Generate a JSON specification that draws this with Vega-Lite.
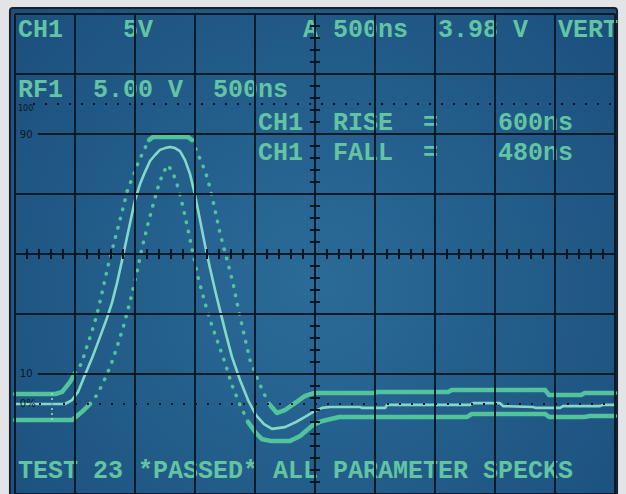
{
  "$schema": "https://vega.github.io/schema/vega-lite/v6.json",
  "width": 600,
  "height": 480,
  "autosize": {"type": "none"},
  "padding": {"left": 15, "top": 14, "right": 11, "bottom": 0},
  "background": "#e2e4e6",
  "config": {"view": {"stroke": null}},
  "datasets": {
    "screen": [{"t0": -42, "t1": 5017, "p0": -31, "p1": 132}],
    "grid": [
      {"t0": 0, "t1": 0, "p0": -31, "p1": 130}, {"t0": 500, "t1": 500, "p0": -31, "p1": 130},
      {"t0": 1000, "t1": 1000, "p0": -31, "p1": 130}, {"t0": 1500, "t1": 1500, "p0": -31, "p1": 130},
      {"t0": 2000, "t1": 2000, "p0": -31, "p1": 130}, {"t0": 2500, "t1": 2500, "p0": -31, "p1": 130},
      {"t0": 3000, "t1": 3000, "p0": -31, "p1": 130}, {"t0": 3500, "t1": 3500, "p0": -31, "p1": 130},
      {"t0": 4000, "t1": 4000, "p0": -31, "p1": 130}, {"t0": 4500, "t1": 4500, "p0": -31, "p1": 130},
      {"t0": 5000, "t1": 5000, "p0": -31, "p1": 130},
      {"t0": 0, "t1": 5000, "p0": -30, "p1": -30}, {"t0": 190, "t1": 5000, "p0": 10, "p1": 10},
      {"t0": 0, "t1": 5000, "p0": 30, "p1": 30}, {"t0": 0, "t1": 5000, "p0": 50, "p1": 50},
      {"t0": 0, "t1": 5000, "p0": 70, "p1": 70}, {"t0": 190, "t1": 5000, "p0": 90, "p1": 90},
      {"t0": 0, "t1": 5000, "p0": 110, "p1": 110}, {"t0": 0, "t1": 5000, "p0": 130, "p1": 130}
    ],
    "trace": [
      {"t": 0, "pct": 0}, {"t": 417, "pct": 0}, {"t": 475, "pct": 1.3}, {"t": 525, "pct": 4},
      {"t": 583, "pct": 9.7}, {"t": 642, "pct": 15.3}, {"t": 708, "pct": 22.3}, {"t": 767, "pct": 28.7},
      {"t": 808, "pct": 33.7}, {"t": 850, "pct": 40.3}, {"t": 900, "pct": 49.3}, {"t": 950, "pct": 58.7},
      {"t": 1000, "pct": 68}, {"t": 1042, "pct": 73.3}, {"t": 1083, "pct": 77.3}, {"t": 1125, "pct": 81},
      {"t": 1167, "pct": 83}, {"t": 1208, "pct": 84.7}, {"t": 1250, "pct": 85.3}, {"t": 1292, "pct": 85.7},
      {"t": 1333, "pct": 85.3}, {"t": 1375, "pct": 84.3}, {"t": 1417, "pct": 81.3}, {"t": 1458, "pct": 76.7},
      {"t": 1500, "pct": 69.7}, {"t": 1542, "pct": 61.3}, {"t": 1583, "pct": 53}, {"t": 1625, "pct": 45.3},
      {"t": 1667, "pct": 38}, {"t": 1708, "pct": 31.3}, {"t": 1758, "pct": 23.3}, {"t": 1808, "pct": 15.7},
      {"t": 1875, "pct": 8}, {"t": 1942, "pct": 1.3}, {"t": 2008, "pct": -3.7}, {"t": 2075, "pct": -6.7},
      {"t": 2142, "pct": -8.3}, {"t": 2250, "pct": -7.7}, {"t": 2342, "pct": -6}, {"t": 2417, "pct": -4.3},
      {"t": 2483, "pct": -2.7}, {"t": 2558, "pct": -1.3}, {"t": 2625, "pct": -1}, {"t": 2875, "pct": -1},
      {"t": 2892, "pct": -1.3}, {"t": 3083, "pct": -1.3}, {"t": 3100, "pct": -0.3}, {"t": 3792, "pct": -0.3},
      {"t": 3817, "pct": 0.3}, {"t": 4042, "pct": 0.3}, {"t": 4067, "pct": -0.7}, {"t": 4317, "pct": -1},
      {"t": 4342, "pct": -1.3}, {"t": 4542, "pct": -1.3}, {"t": 4567, "pct": -0.7}, {"t": 4875, "pct": -0.7},
      {"t": 4900, "pct": -0.3}, {"t": 5000, "pct": -0.3}
    ],
    "env": [
      {"seg": "u1", "part": "level", "t": 0, "pct": 3.3}, {"seg": "u1", "part": "level", "t": 333, "pct": 3.3},
      {"seg": "u1", "part": "level", "t": 392, "pct": 4}, {"seg": "u1", "part": "level", "t": 458, "pct": 7.3},
      {"seg": "u1", "part": "level", "t": 500, "pct": 10.3},
      {"seg": "u2", "part": "edge", "t": 500, "pct": 10.3}, {"seg": "u2", "part": "edge", "t": 558, "pct": 13.7},
      {"seg": "u2", "part": "edge", "t": 583, "pct": 17.3}, {"seg": "u2", "part": "edge", "t": 617, "pct": 21.3},
      {"seg": "u2", "part": "edge", "t": 658, "pct": 26.3}, {"seg": "u2", "part": "edge", "t": 692, "pct": 31.3},
      {"seg": "u2", "part": "edge", "t": 725, "pct": 37}, {"seg": "u2", "part": "edge", "t": 775, "pct": 46},
      {"seg": "u2", "part": "edge", "t": 833, "pct": 55}, {"seg": "u2", "part": "edge", "t": 875, "pct": 61.3},
      {"seg": "u2", "part": "edge", "t": 917, "pct": 68}, {"seg": "u2", "part": "edge", "t": 942, "pct": 72},
      {"seg": "u2", "part": "edge", "t": 983, "pct": 75.7}, {"seg": "u2", "part": "edge", "t": 1025, "pct": 80.3},
      {"seg": "u2", "part": "edge", "t": 1067, "pct": 84}, {"seg": "u2", "part": "edge", "t": 1117, "pct": 88},
      {"seg": "u3", "part": "level", "t": 1117, "pct": 88}, {"seg": "u3", "part": "level", "t": 1150, "pct": 89},
      {"seg": "u3", "part": "level", "t": 1442, "pct": 89}, {"seg": "u3", "part": "level", "t": 1475, "pct": 88},
      {"seg": "u4", "part": "edge", "t": 1475, "pct": 88}, {"seg": "u4", "part": "edge", "t": 1517, "pct": 84},
      {"seg": "u4", "part": "edge", "t": 1558, "pct": 80.3}, {"seg": "u4", "part": "edge", "t": 1600, "pct": 75.7},
      {"seg": "u4", "part": "edge", "t": 1625, "pct": 72}, {"seg": "u4", "part": "edge", "t": 1658, "pct": 66.3},
      {"seg": "u4", "part": "edge", "t": 1708, "pct": 57}, {"seg": "u4", "part": "edge", "t": 1767, "pct": 48},
      {"seg": "u4", "part": "edge", "t": 1817, "pct": 40.3}, {"seg": "u4", "part": "edge", "t": 1850, "pct": 33.7},
      {"seg": "u4", "part": "edge", "t": 1900, "pct": 24.7}, {"seg": "u4", "part": "edge", "t": 1958, "pct": 14.7},
      {"seg": "u4", "part": "edge", "t": 2008, "pct": 9.7}, {"seg": "u4", "part": "edge", "t": 2067, "pct": 4},
      {"seg": "u4", "part": "edge", "t": 2125, "pct": -0.3},
      {"seg": "u5", "part": "level", "t": 2125, "pct": -0.3}, {"seg": "u5", "part": "level", "t": 2183, "pct": -3},
      {"seg": "u5", "part": "level", "t": 2250, "pct": -2}, {"seg": "u5", "part": "level", "t": 2333, "pct": 0.3},
      {"seg": "u5", "part": "level", "t": 2417, "pct": 2.7}, {"seg": "u5", "part": "level", "t": 2500, "pct": 3.7},
      {"seg": "u5", "part": "level", "t": 3000, "pct": 3.7}, {"seg": "u5", "part": "level", "t": 3017, "pct": 4},
      {"seg": "u5", "part": "level", "t": 3608, "pct": 4}, {"seg": "u5", "part": "level", "t": 3642, "pct": 4.7},
      {"seg": "u5", "part": "level", "t": 4417, "pct": 4.7}, {"seg": "u5", "part": "level", "t": 4450, "pct": 3},
      {"seg": "u5", "part": "level", "t": 4717, "pct": 3}, {"seg": "u5", "part": "level", "t": 4750, "pct": 3.7},
      {"seg": "u5", "part": "level", "t": 5000, "pct": 3.7},
      {"seg": "l1", "part": "level", "t": 0, "pct": -5.3}, {"seg": "l1", "part": "level", "t": 475, "pct": -5.3},
      {"seg": "l1", "part": "level", "t": 508, "pct": -4.3}, {"seg": "l1", "part": "level", "t": 567, "pct": -2.3},
      {"seg": "l1", "part": "level", "t": 625, "pct": 0},
      {"seg": "l2", "part": "edge", "t": 625, "pct": 0}, {"seg": "l2", "part": "edge", "t": 683, "pct": 3},
      {"seg": "l2", "part": "edge", "t": 725, "pct": 6.3}, {"seg": "l2", "part": "edge", "t": 767, "pct": 10},
      {"seg": "l2", "part": "edge", "t": 808, "pct": 14}, {"seg": "l2", "part": "edge", "t": 850, "pct": 19},
      {"seg": "l2", "part": "edge", "t": 900, "pct": 25.3}, {"seg": "l2", "part": "edge", "t": 958, "pct": 34},
      {"seg": "l2", "part": "edge", "t": 1017, "pct": 44}, {"seg": "l2", "part": "edge", "t": 1058, "pct": 52},
      {"seg": "l2", "part": "edge", "t": 1108, "pct": 60}, {"seg": "l2", "part": "edge", "t": 1150, "pct": 66.3},
      {"seg": "l2", "part": "edge", "t": 1192, "pct": 72.3}, {"seg": "l2", "part": "edge", "t": 1233, "pct": 77},
      {"seg": "l2", "part": "edge", "t": 1275, "pct": 79.7}, {"seg": "l2", "part": "edge", "t": 1317, "pct": 77},
      {"seg": "l2", "part": "edge", "t": 1358, "pct": 72.3}, {"seg": "l2", "part": "edge", "t": 1400, "pct": 65.7},
      {"seg": "l2", "part": "edge", "t": 1442, "pct": 58}, {"seg": "l2", "part": "edge", "t": 1483, "pct": 50.3},
      {"seg": "l2", "part": "edge", "t": 1525, "pct": 42.3}, {"seg": "l2", "part": "edge", "t": 1583, "pct": 33.7},
      {"seg": "l2", "part": "edge", "t": 1625, "pct": 28}, {"seg": "l2", "part": "edge", "t": 1675, "pct": 22.3},
      {"seg": "l2", "part": "edge", "t": 1742, "pct": 14.7}, {"seg": "l2", "part": "edge", "t": 1808, "pct": 6.3},
      {"seg": "l2", "part": "edge", "t": 1875, "pct": -0.3}, {"seg": "l2", "part": "edge", "t": 1942, "pct": -6},
      {"seg": "l3", "part": "level", "t": 1942, "pct": -6}, {"seg": "l3", "part": "level", "t": 2008, "pct": -9.7},
      {"seg": "l3", "part": "level", "t": 2058, "pct": -11.7}, {"seg": "l3", "part": "level", "t": 2125, "pct": -12.3},
      {"seg": "l3", "part": "level", "t": 2292, "pct": -12.3}, {"seg": "l3", "part": "level", "t": 2375, "pct": -10.7},
      {"seg": "l3", "part": "level", "t": 2483, "pct": -7}, {"seg": "l3", "part": "level", "t": 2558, "pct": -5.7},
      {"seg": "l3", "part": "level", "t": 2708, "pct": -4.3}, {"seg": "l3", "part": "level", "t": 3767, "pct": -4.3},
      {"seg": "l3", "part": "level", "t": 3808, "pct": -3.3}, {"seg": "l3", "part": "level", "t": 4417, "pct": -3.3},
      {"seg": "l3", "part": "level", "t": 4450, "pct": -4.3}, {"seg": "l3", "part": "level", "t": 4750, "pct": -4.3},
      {"seg": "l3", "part": "level", "t": 4792, "pct": -4}, {"seg": "l3", "part": "level", "t": 5000, "pct": -4}
    ],
    "refs": [{"t0": 150, "t1": 5000, "pct": 100}, {"t0": 200, "t1": 5000, "pct": 0}],
    "marker": [{"t": 308, "p0": -5.3, "p1": 4.7}],
    "ht": [{"t":100},{"t":200},{"t":300},{"t":400},{"t":500},{"t":600},{"t":700},{"t":800},{"t":900},{"t":1000},
           {"t":1100},{"t":1200},{"t":1300},{"t":1400},{"t":1500},{"t":1600},{"t":1700},{"t":1800},{"t":1900},{"t":2000},
           {"t":2100},{"t":2200},{"t":2300},{"t":2400},{"t":2500},{"t":2600},{"t":2700},{"t":2800},{"t":2900},{"t":3000},
           {"t":3100},{"t":3200},{"t":3300},{"t":3400},{"t":3500},{"t":3600},{"t":3700},{"t":3800},{"t":3900},{"t":4000},
           {"t":4100},{"t":4200},{"t":4300},{"t":4400},{"t":4500},{"t":4600},{"t":4700},{"t":4800},{"t":4900}],
    "vt": [{"pct":-26},{"pct":-22},{"pct":-18},{"pct":-14},{"pct":-10},{"pct":-6},{"pct":-2},{"pct":2},{"pct":6},{"pct":10},
           {"pct":14},{"pct":18},{"pct":22},{"pct":26},{"pct":30},{"pct":34},{"pct":38},{"pct":42},{"pct":46},{"pct":50},
           {"pct":54},{"pct":58},{"pct":62},{"pct":66},{"pct":70},{"pct":74},{"pct":78},{"pct":82},{"pct":86},{"pct":90},
           {"pct":94},{"pct":98},{"pct":102},{"pct":106},{"pct":110},{"pct":114},{"pct":118},{"pct":122},{"pct":126}],
    "labels": [
      {"t": 25, "pct": 122.3, "label": "CH1"}, {"t": 900, "pct": 122.3, "label": "5V"},
      {"t": 2400, "pct": 122.3, "label": "A 500ns"}, {"t": 3525, "pct": 122.3, "label": "3.98 V"},
      {"t": 4525, "pct": 122.3, "label": "VERT"},
      {"t": 25, "pct": 102.3, "label": "RF1"}, {"t": 650, "pct": 102.3, "label": "5.00 V"},
      {"t": 1650, "pct": 102.3, "label": "500ns"},
      {"t": 2025, "pct": 91.3, "label": "CH1"}, {"t": 2650, "pct": 91.3, "label": "RISE"},
      {"t": 3400, "pct": 91.3, "label": "="}, {"t": 4025, "pct": 91.3, "label": "600ns"},
      {"t": 2025, "pct": 81.3, "label": "CH1"}, {"t": 2650, "pct": 81.3, "label": "FALL"},
      {"t": 3400, "pct": 81.3, "label": "="}, {"t": 4025, "pct": 81.3, "label": "480ns"},
      {"t": 25, "pct": -24.7, "label": "TEST 23 *PASSED* ALL PARAMETER SPECKS"}
    ],
    "scaleLabels": [
      {"t": 25, "pct": 98.2, "label": "100", "size": "small"}, {"t": 40, "pct": 89.7, "label": "90", "size": "normal"},
      {"t": 40, "pct": 10, "label": "10", "size": "normal"}, {"t": 40, "pct": 0, "label": "0%", "size": "normal"}
    ]
  },
  "layer": [
    {
      "data": {"name": "screen"},
      "mark": {"type": "rect", "cornerRadius": 3, "stroke": "#15222e", "strokeWidth": 2,
        "fill": {"gradient": "radial", "x1": 0.5, "y1": 0.55, "r1": 0, "x2": 0.5, "y2": 0.55, "r2": 0.75,
          "stops": [{"offset": 0, "color": "#2b6b98"}, {"offset": 1, "color": "#194c79"}]}},
      "encoding": {
        "x": {"field": "t0", "type": "quantitative",
          "scale": {"domain": [0, 5000], "nice": false, "zero": false}, "axis": null},
        "x2": {"field": "t1"},
        "y": {"field": "p0", "type": "quantitative",
          "scale": {"domain": [-30, 130], "nice": false, "zero": false}, "axis": null},
        "y2": {"field": "p1"}
      }
    },
    {
      "data": {"name": "env"},
      "mark": {"type": "line", "color": "#52c49c", "strokeCap": "round", "strokeJoin": "round"},
      "encoding": {
        "x": {"field": "t", "type": "quantitative", "axis": null},
        "y": {"field": "pct", "type": "quantitative", "axis": null},
        "detail": {"field": "seg"},
        "strokeDash": {"field": "part", "type": "nominal", "legend": null,
          "scale": {"domain": ["level", "edge"], "range": [[1, 0], [0.5, 9]]}},
        "strokeWidth": {"field": "part", "type": "nominal", "legend": null,
          "scale": {"domain": ["level", "edge"], "range": [4.5, 3.5]}}
      }
    },
    {
      "data": {"name": "trace"},
      "mark": {"type": "line", "color": "#84d9c6", "strokeWidth": 2.6, "strokeJoin": "round"},
      "encoding": {
        "x": {"field": "t", "type": "quantitative", "axis": null},
        "y": {"field": "pct", "type": "quantitative", "axis": null}
      }
    },
    {
      "data": {"name": "labels"},
      "mark": {"type": "text", "font": "Liberation Mono", "fontWeight": "bold", "fontSize": 25,
        "align": "left", "baseline": "alphabetic", "color": "#62c4a3"},
      "encoding": {
        "x": {"field": "t", "type": "quantitative", "axis": null},
        "y": {"field": "pct", "type": "quantitative", "axis": null},
        "text": {"field": "label"}
      }
    },
    {
      "data": {"name": "grid"},
      "mark": {"type": "rule", "color": "#0b1520", "strokeWidth": 2, "opacity": 0.92},
      "encoding": {
        "x": {"field": "t0", "type": "quantitative", "axis": null},
        "x2": {"field": "t1"},
        "y": {"field": "p0", "type": "quantitative", "axis": null},
        "y2": {"field": "p1"}
      }
    },
    {
      "data": {"name": "refs"},
      "mark": {"type": "rule", "color": "#0b1520", "strokeWidth": 2.2, "strokeDash": [2, 10]},
      "encoding": {
        "x": {"field": "t0", "type": "quantitative", "axis": null},
        "x2": {"field": "t1"},
        "y": {"field": "pct", "type": "quantitative", "axis": null}
      }
    },
    {
      "data": {"name": "marker"},
      "mark": {"type": "rule", "color": "#a6dccd", "strokeWidth": 1.5, "strokeDash": [2, 3]},
      "encoding": {
        "x": {"field": "t", "type": "quantitative", "axis": null},
        "y": {"field": "p0", "type": "quantitative", "axis": null},
        "y2": {"field": "p1"}
      }
    },
    {
      "data": {"name": "ht"},
      "mark": {"type": "rule", "color": "#0b1520", "strokeWidth": 2},
      "encoding": {
        "x": {"field": "t", "type": "quantitative", "axis": null},
        "y": {"datum": 48.3, "type": "quantitative", "axis": null},
        "y2": {"datum": 51.7}
      }
    },
    {
      "data": {"name": "vt"},
      "mark": {"type": "rule", "color": "#0b1520", "strokeWidth": 2},
      "encoding": {
        "y": {"field": "pct", "type": "quantitative", "axis": null},
        "x": {"datum": 2458, "type": "quantitative", "axis": null},
        "x2": {"datum": 2542}
      }
    },
    {
      "data": {"name": "scaleLabels"},
      "mark": {"type": "text", "font": "DejaVu Sans", "align": "left", "baseline": "middle", "color": "#0b1722"},
      "encoding": {
        "x": {"field": "t", "type": "quantitative", "axis": null},
        "y": {"field": "pct", "type": "quantitative", "axis": null},
        "text": {"field": "label"},
        "size": {"field": "size", "type": "nominal", "legend": null,
          "scale": {"domain": ["small", "normal"], "range": [8, 10]}}
      }
    }
  ]
}
